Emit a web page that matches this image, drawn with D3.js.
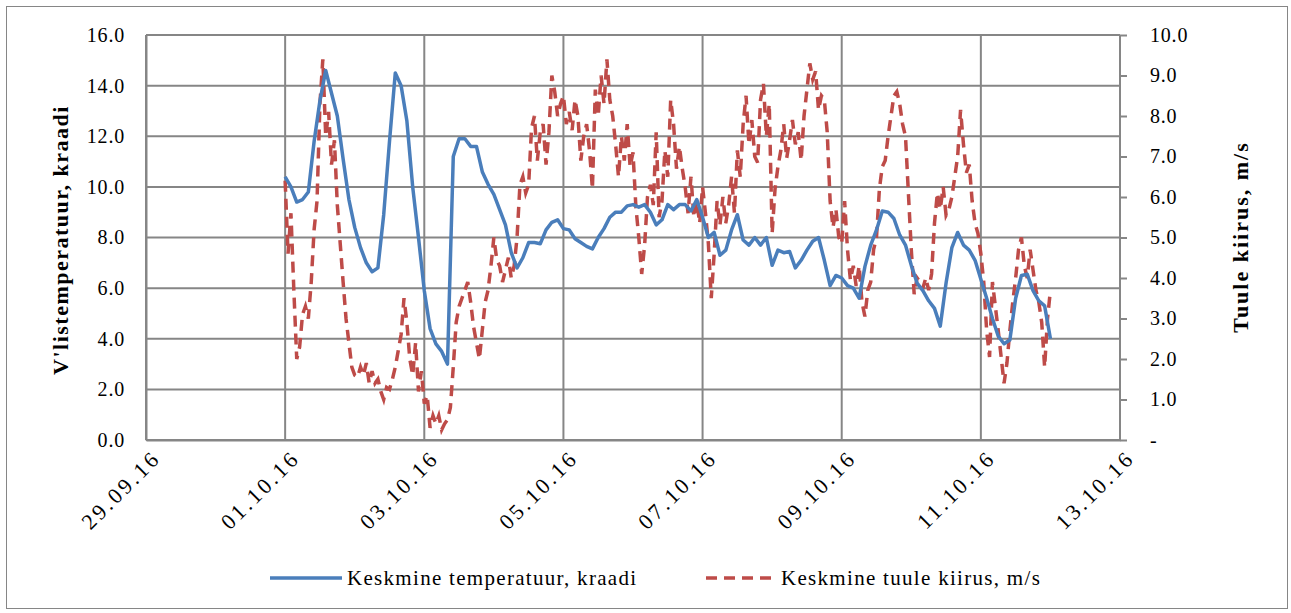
<!DOCTYPE html>
<html>
<head>
<meta charset="utf-8">
<script src="https://cdn.jsdelivr.net/npm/d3@7"></script>
<style>
  body { margin: 0; background: #fff; }
  svg text { font-family: "Liberation Serif", "Times New Roman", serif; fill: #000; }
  .tick text { font-size: 20px; letter-spacing: 0.8px; }
</style>
</head>
<body>
<div id="chart"></div>
<script>
//size of the page
var width = 1291,
  height = 613;

//plot area
var margin = { left: 146, right: 171, top: 35, bottom: 173 };

//temperature starts at 01.10.16 00:00 with one value every 2 hours
//wind starts at the same time with one value every hour
var seriesStart = new Date(2016, 9, 1, 0, 0);
var tempStepHours = 2;
var windStepHours = 1;

//mean temperature, degrees (left axis)
var temperature = [
  10.4, 10.0, 9.4, 9.5, 9.8, 11.8, 13.4, 14.6, 13.7, 12.8,
  11.1, 9.5, 8.4, 7.6, 7.0, 6.65, 6.8, 8.9, 11.8, 14.5,
  14.0, 12.6, 10.0, 8.0, 5.9, 4.4, 3.8, 3.5, 3.0, 11.2,
  11.9, 11.9, 11.6, 11.6, 10.6, 10.1, 9.7, 9.1, 8.5, 7.4,
  6.8, 7.2, 7.8, 7.8, 7.75, 8.3, 8.6, 8.7, 8.35, 8.3,
  7.95, 7.8, 7.65, 7.55, 8.0, 8.35, 8.8, 9.0, 9.0, 9.25,
  9.3, 9.2, 9.3, 9.0, 8.5, 8.7, 9.3, 9.1, 9.3, 9.3,
  9.05, 9.5, 8.8, 8.0, 8.2, 7.3, 7.5, 8.3, 8.9, 7.9,
  7.7, 8.0, 7.7, 8.0, 6.9, 7.5, 7.4, 7.45, 6.8, 7.1,
  7.5, 7.85, 8.0, 7.1, 6.1, 6.5, 6.4, 6.1, 6.0, 5.6,
  6.85, 7.7, 8.3, 9.05, 9.0, 8.75, 8.1, 7.7, 6.9, 6.2,
  5.9, 5.5, 5.2, 4.5, 6.2, 7.6, 8.2, 7.7, 7.5, 7.1,
  6.35, 5.6, 4.8, 4.1, 3.8, 3.95, 5.6, 6.5, 6.55, 5.9,
  5.5, 5.3, 4.0
];

//mean wind speed, m/s (right axis)
var wind = [
  6.4, 4.6, 5.6, 3.7, 2.0, 2.3, 3.1, 3.3, 3.0, 3.9,
  5.2, 5.9, 8.3, 9.4, 7.5, 8.1, 6.8, 7.4, 5.8, 4.85,
  3.9, 3.0, 2.4, 1.8, 1.6, 1.55, 1.8, 1.6, 1.9, 1.4,
  1.7, 1.4, 1.5, 1.2, 1.0, 1.3, 1.25, 1.5, 1.8, 2.2,
  2.6, 3.5, 2.9, 2.0, 1.6, 2.4, 1.2, 1.7, 0.9, 1.1,
  0.3, 0.6, 0.4, 0.6, 0.25, 0.4, 0.5, 0.8, 1.8, 2.9,
  3.3, 3.5, 3.7, 3.9, 3.4, 2.8, 2.4, 2.0, 2.7, 3.4,
  3.7, 4.3, 5.0, 4.45, 4.3, 3.9, 4.2, 4.5, 4.0, 4.3,
  5.0, 6.3, 6.5, 6.1, 6.3, 7.7, 8.0, 6.9, 7.6, 7.8,
  6.8, 7.6, 9.0, 8.6, 8.0, 8.3, 8.5, 7.8, 8.1, 7.65,
  8.4, 8.0, 6.9, 7.5, 7.8, 7.15, 6.2, 8.65, 8.0, 9.0,
  8.3, 9.4, 8.4, 8.0, 7.3, 6.5, 7.5, 6.9, 7.8, 6.75,
  7.1, 5.75, 5.0, 4.1, 4.8, 6.0, 6.3, 5.8, 7.6, 5.5,
  5.9, 7.15, 6.5, 8.4, 7.8, 6.7, 7.25, 6.7, 6.25, 5.6,
  6.5, 5.5, 5.9, 5.35, 6.25, 5.6, 4.85, 3.5, 4.6, 5.9,
  5.3, 6.0, 5.35, 5.8, 6.5, 5.6, 7.15, 6.5, 7.8, 8.5,
  7.3, 7.9, 7.0, 6.85, 8.4, 8.8, 7.5, 8.3, 5.1, 6.2,
  6.75, 7.15, 7.8, 6.95, 7.4, 7.9, 7.3, 7.6, 6.9, 8.0,
  8.65, 9.3, 8.9, 9.1, 8.15, 8.5, 8.4, 7.6, 5.9, 5.25,
  5.7, 5.0, 4.85, 5.9, 4.7, 3.95, 4.3, 3.8, 4.3, 3.4,
  3.05, 3.7, 3.9, 4.7, 5.0, 6.2, 6.75, 6.9, 7.5, 8.0,
  8.5, 8.6, 8.3, 7.8, 7.5, 6.1, 4.7, 3.6, 4.0, 3.9,
  3.75, 4.0, 3.7, 4.1, 5.35, 6.1, 5.7, 6.25, 5.55, 5.7,
  6.0, 6.5, 7.0, 8.15, 7.3, 6.6, 6.8, 5.9, 5.35, 5.1,
  4.6, 3.9, 2.7, 2.05, 3.9, 3.3, 2.7, 2.05, 1.4, 1.9,
  2.7, 3.4, 4.0, 4.7, 5.0, 4.3, 4.0, 4.7, 4.2, 3.7,
  3.4, 2.9, 1.8, 3.0, 3.7
];

//axis ranges and labels
var dateRange = [new Date(2016, 8, 29), new Date(2016, 9, 13)];
var tempTicks = [0, 2, 4, 6, 8, 10, 12, 14, 16];
var windTicks = [0, 1, 2, 3, 4, 5, 6, 7, 8, 9, 10];

var leftTitle = "V'listemperatuur, kraadi";
var rightTitle = "Tuule kiirus, m/s";
var tempLabel = "Keskmine temperatuur, kraadi";
var windLabel = "Keskmine tuule kiirus, m/s";

var gridColor = "#868686";
var blue = "#4a7ebb";
var red = "#be4b48";

var svg = d3
  .select("#chart")
  .append("svg")
  .attr("width", width)
  .attr("height", height);

//outer frame of the chart
svg
  .append("rect")
  .attr("x", 6.5)
  .attr("y", 6.5)
  .attr("width", 1281)
  .attr("height", 602)
  .attr("fill", "none")
  .attr("stroke", gridColor)
  .attr("stroke-width", 1);

var x = d3
  .scaleTime()
  .domain(dateRange)
  .range([margin.left, width - margin.right]);

var yTemp = d3
  .scaleLinear()
  .domain([0, 16])
  .range([height - margin.bottom, margin.top]);

var yWind = d3
  .scaleLinear()
  .domain([0, 10])
  .range([height - margin.bottom, margin.top]);

var dayTicks = d3.timeDay.range(dateRange[0], d3.timeDay.offset(dateRange[1], 1), 2);

//grid lines
svg
  .append("g")
  .selectAll("line")
  .data(tempTicks)
  .enter()
  .append("line")
  .attr("x1", margin.left)
  .attr("x2", width - margin.right)
  .attr("y1", function(d) { return yTemp(d); })
  .attr("y2", function(d) { return yTemp(d); })
  .attr("stroke", gridColor)
  .attr("stroke-width", 2);

svg
  .append("g")
  .selectAll("line")
  .data(dayTicks)
  .enter()
  .append("line")
  .attr("x1", function(d) { return x(d); })
  .attr("x2", function(d) { return x(d); })
  .attr("y1", margin.top)
  .attr("y2", height - margin.bottom)
  .attr("stroke", gridColor)
  .attr("stroke-width", 2);

//left axis
var leftAxis = svg
  .append("g")
  .attr("transform", "translate(" + margin.left + ",0)")
  .call(
    d3.axisLeft(yTemp)
      .tickValues(tempTicks)
      .tickSize(0)
      .tickPadding(21)
      .tickFormat(function(d) { return d.toFixed(1); })
  );
leftAxis.select(".domain").attr("stroke", gridColor).attr("stroke-width", 2);

//right axis, zero is shown as a dash
var rightAxis = svg
  .append("g")
  .attr("transform", "translate(" + (width - margin.right) + ",0)")
  .call(
    d3.axisRight(yWind)
      .tickValues(windTicks)
      .tickSize(7)
      .tickPadding(23)
      .tickFormat(function(d) { return d === 0 ? "-" : d.toFixed(1); })
  );
rightAxis.select(".domain").attr("stroke", gridColor).attr("stroke-width", 2).attr("d", "M0," + yWind(0) + "V" + yWind(10));
rightAxis.selectAll(".tick line").attr("stroke", gridColor).attr("stroke-width", 2);

//bottom axis with slanted dates
var bottomAxis = svg
  .append("g")
  .attr("transform", "translate(0," + (height - margin.bottom) + ")")
  .call(
    d3.axisBottom(x)
      .tickValues(dayTicks)
      .tickSize(0)
      .tickFormat(d3.timeFormat("%d.%m.%y"))
  );
bottomAxis.select(".domain").attr("stroke", gridColor).attr("stroke-width", 2);
bottomAxis
  .selectAll(".tick text")
  .attr("text-anchor", "end")
  .attr("transform", "translate(10,14) rotate(-45)")
  .attr("dy", "0.35em")
  .attr("y", 0)
  .style("font-size", "22px")
  .style("letter-spacing", "3px");

//the axis groups come with a sans-serif font, use the chart font instead
svg.selectAll("g").attr("font-family", null);

//lines
var tempLine = d3
  .line()
  .x(function(d, i) { return x(d3.timeHour.offset(seriesStart, i * tempStepHours)); })
  .y(function(d) { return yTemp(d); });

var windLine = d3
  .line()
  .x(function(d, i) { return x(d3.timeHour.offset(seriesStart, i * windStepHours)); })
  .y(function(d) { return yWind(d); });

svg
  .append("path")
  .datum(wind)
  .attr("d", windLine)
  .attr("fill", "none")
  .attr("stroke", red)
  .attr("stroke-width", 3.5)
  .attr("stroke-dasharray", "11,7");

svg
  .append("path")
  .datum(temperature)
  .attr("d", tempLine)
  .attr("fill", "none")
  .attr("stroke", blue)
  .attr("stroke-width", 3.5)
  .attr("stroke-linejoin", "round");

//axis titles
svg
  .append("text")
  .attr("transform", "translate(60,240) rotate(-90)")
  .attr("text-anchor", "middle")
  .attr("dy", "0.35em")
  .style("font-size", "22px")
  .style("font-weight", "bold")
  .style("letter-spacing", "1.5px")
  .text(leftTitle);

svg
  .append("text")
  .attr("transform", "translate(1240,237) rotate(-90)")
  .attr("text-anchor", "middle")
  .attr("dy", "0.35em")
  .style("font-size", "22px")
  .style("font-weight", "bold")
  .style("letter-spacing", "2px")
  .text(rightTitle);

//legend
var legend = svg.append("g").attr("transform", "translate(0,578)");

legend
  .append("line")
  .attr("x1", 270)
  .attr("x2", 342)
  .attr("stroke", blue)
  .attr("stroke-width", 3.5);

legend
  .append("text")
  .attr("x", 347)
  .attr("dy", "0.35em")
  .style("font-size", "21px")
  .style("letter-spacing", "1.3px")
  .text(tempLabel);

legend
  .append("line")
  .attr("x1", 706)
  .attr("x2", 776)
  .attr("stroke", red)
  .attr("stroke-width", 3.5)
  .attr("stroke-dasharray", "11,7");

legend
  .append("text")
  .attr("x", 781)
  .attr("dy", "0.35em")
  .style("font-size", "21px")
  .style("letter-spacing", "1.3px")
  .text(windLabel);
</script>
</body>
</html>
